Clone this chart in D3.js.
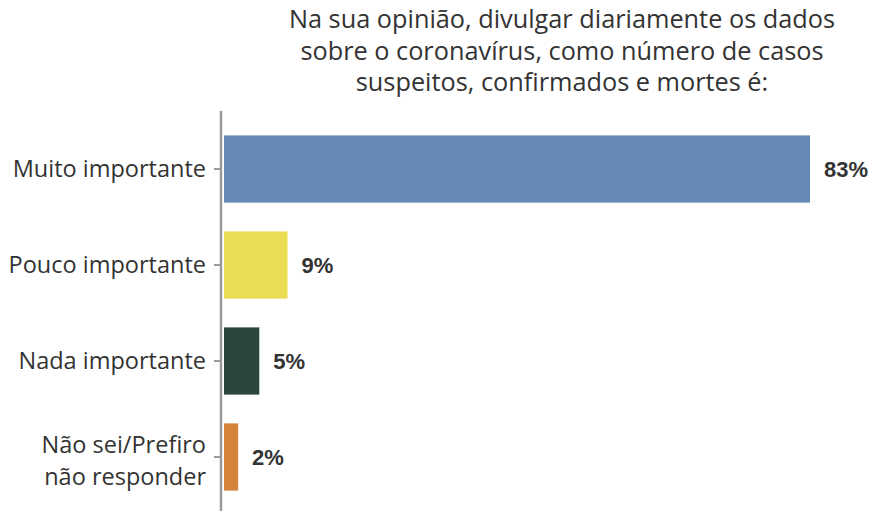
<!DOCTYPE html>
<html><head><meta charset="utf-8">
<script src="https://cdn.jsdelivr.net/npm/d3@7"></script>
<style>body{margin:0;background:#fff}</style>
</head><body>
<svg id="c" width="872" height="511"></svg>
<script>
const categories = ["Muito importante", "Pouco importante", "Nada importante", "Não sei/Prefiro\nnão responder"];
const values = [83, 9, 5, 2];
const valueLabels = ["83%", "9%", "5%", "2%"];
const colors = ["#6489b3", "#e9dd53", "#2b473c", "#d3843a"];
const titleLines = ["Na sua opinião, divulgar diariamente os dados", "sobre o coronavírus, como número de casos", "suspeitos, confirmados e mortes é:"];

const svg = d3.select("#c");
const x = d3.scaleLinear().domain([0, 83]).range([224, 810]);
const y = d3.scaleBand().domain(categories).range([121, 505]).paddingInner(0.3).paddingOuter(0.15);

svg.append("g").selectAll("text").data(titleLines).join("text")
  .attr("x", 562).attr("y", (d, i) => 28 + i * 31.5)
  .attr("text-anchor", "middle")
  .style("font-family", "'Open Sans', sans-serif").style("font-size", "25.3px").style("fill", "#333")
  .text(d => d);

svg.append("g").selectAll("rect").data(values).join("rect")
  .attr("x", x(0)).attr("y", (d, i) => y(categories[i]))
  .attr("width", d => x(d) - x(0)).attr("height", y.bandwidth())
  .attr("fill", (d, i) => colors[i]);

svg.append("g").selectAll("text").data(values).join("text")
  .attr("x", d => x(d) + 14).attr("y", (d, i) => y(categories[i]) + y.bandwidth() / 2 + 8)
  .style("font-family", "'Liberation Sans', Arial, sans-serif").style("font-weight", "bold")
  .style("font-size", "22px").style("fill", "#333")
  .text((d, i) => valueLabels[i]);

const ax = svg.append("g").attr("transform", "translate(221,0)")
  .call(d3.axisLeft(y).tickSize(7).tickSizeOuter(0).tickPadding(6).tickFormat(""));
ax.select(".domain").remove();
ax.selectAll(".tick line").attr("stroke", "#999").attr("stroke-width", 2);
svg.append("line").attr("x1", 221).attr("x2", 221).attr("y1", 111).attr("y2", 511)
  .attr("stroke", "#999").attr("stroke-width", 2.5);

ax.selectAll(".tick").each(function(d) {
  const lines = d.split("\n");
  lines.forEach((l, i) => {
    d3.select(this).append("text")
      .attr("x", -15).attr("text-anchor", "end")
      .attr("y", lines.length === 1 ? 8 : (i === 0 ? -4 : 28))
      .style("font-family", "'Open Sans', sans-serif").style("font-size", "23.5px").style("fill", "#333")
      .text(l);
  });
});
</script>
</body></html>
